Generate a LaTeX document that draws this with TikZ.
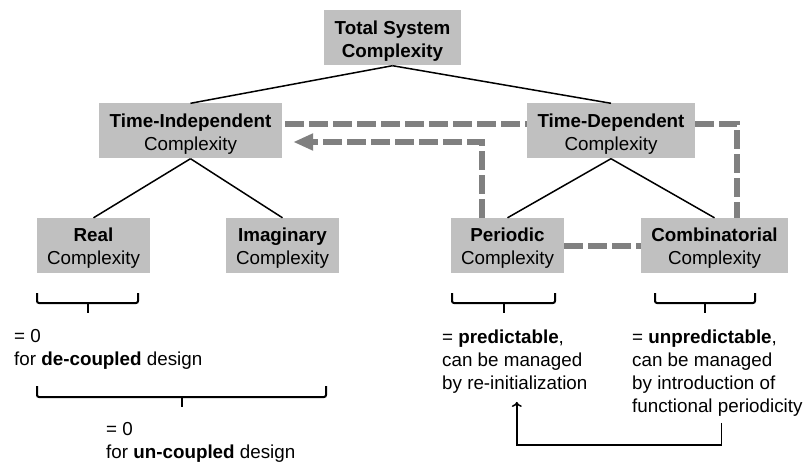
\documentclass[tikz,border=0pt]{standalone}
\usepackage{fontspec}
\setmainfont{Liberation Sans}
\usepackage{tikz}
\usetikzlibrary{arrows.meta}
\definecolor{boxgray}{RGB}{192,192,192}
\definecolor{dashgray}{RGB}{128,128,128}
\newcommand{\upstrut}{\rule{0pt}{19pt}}

\begin{document}
\begin{tikzpicture}[x=1pt,y=-1pt,
  font=\fontsize{18.8}{23}\selectfont,
  cbox/.style={fill=boxgray, align=center, inner sep=0pt, minimum height=55pt},
  tree/.style={line width=1.5pt},
  coupling/.style={dashgray, line width=6pt, dash pattern=on 19pt off 5pt},
  bracket/.style={line width=2pt, rounded corners=2pt},
  note/.style={anchor=north west, align=left, inner sep=0pt}]
\useasboundingbox (0,0) rectangle (803,465);
% complexity boxes
\node[cbox, minimum width=137pt] (total) at (392.5,38) {\upstrut\textbf{Total System}\\\textbf{Complexity}};
\node[cbox, minimum width=183pt] (ti) at (190.5,131) {\upstrut\textbf{Time-Independent}\\Complexity};
\node[cbox, minimum width=168pt] (td) at (611,131) {\upstrut\textbf{Time-Dependent}\\Complexity};
\node[cbox, minimum width=113pt] (real) at (93.5,245.5) {\upstrut\textbf{Real}\\Complexity};
\node[cbox, minimum width=113pt] (imag) at (282.5,245.5) {\upstrut\textbf{Imaginary}\\Complexity};
\node[cbox, minimum width=113pt] (per) at (507.5,245.5) {\upstrut\textbf{Periodic}\\Complexity};
\node[cbox, minimum width=147pt] (comb) at (714.5,245.5) {\upstrut\textbf{Combinatorial}\\Complexity};
% tree
\draw[tree] (total.south) -- (ti.north);
\draw[tree] (total.south) -- (td.north);
\draw[tree] (ti.south) -- (real.north);
\draw[tree] (ti.south) -- (imag.north);
\draw[tree] (td.south) -- (per.north);
\draw[tree] (td.south) -- (comb.north);
% couplings
\draw[coupling] ([xshift=3pt,yshift=7pt]ti.east) -- ([yshift=7pt]td.west);
\draw[coupling] ([yshift=7pt]td.east) -| ([xshift=22.5pt]comb.north);
\draw[coupling] (per.east) -- (comb.west);
\draw[coupling, -{Triangle[length=20pt,width=16pt]}] ([xshift=-25.5pt]per.north) |- ([xshift=11pt,yshift=-11pt]ti.east);
% brackets
\draw[bracket] (37,293) -- (37,303) -- (138,303) -- (138,293);
\draw[bracket] (87.5,303) -- (87.5,313);
\draw[bracket] (452,293) -- (452,303) -- (555,303) -- (555,293);
\draw[bracket] (503.5,303) -- (503.5,313);
\draw[bracket] (655,293) -- (655,303) -- (755,303) -- (755,293);
\draw[bracket] (705,303) -- (705,313);
\draw[bracket] (37,386) -- (37,397) -- (326,397) -- (326,386);
\draw[bracket] (181.5,397) -- (181.5,407);
% notes
\node[note] (dec) at (14,329) {= 0\\for \textbf{de-coupled} design};
\node[note] (unc) at (106,422) {= 0\\for \textbf{un-coupled} design};
\node[note] (pred) at (442,330) {= \textbf{predictable},\\can be managed\\by re-initialization};
\node[note] (unpred) at (632,330) {= \textbf{unpredictable},\\can be managed\\by introduction of\\functional periodicity};
\draw[tree, -{To[length=5pt,width=10pt]}] ([xshift=4pt,yshift=-6pt]unpred.south) -- ++(0,22) -| ([xshift=2pt,yshift=-8pt]pred.south);
\end{tikzpicture}
\end{document}
